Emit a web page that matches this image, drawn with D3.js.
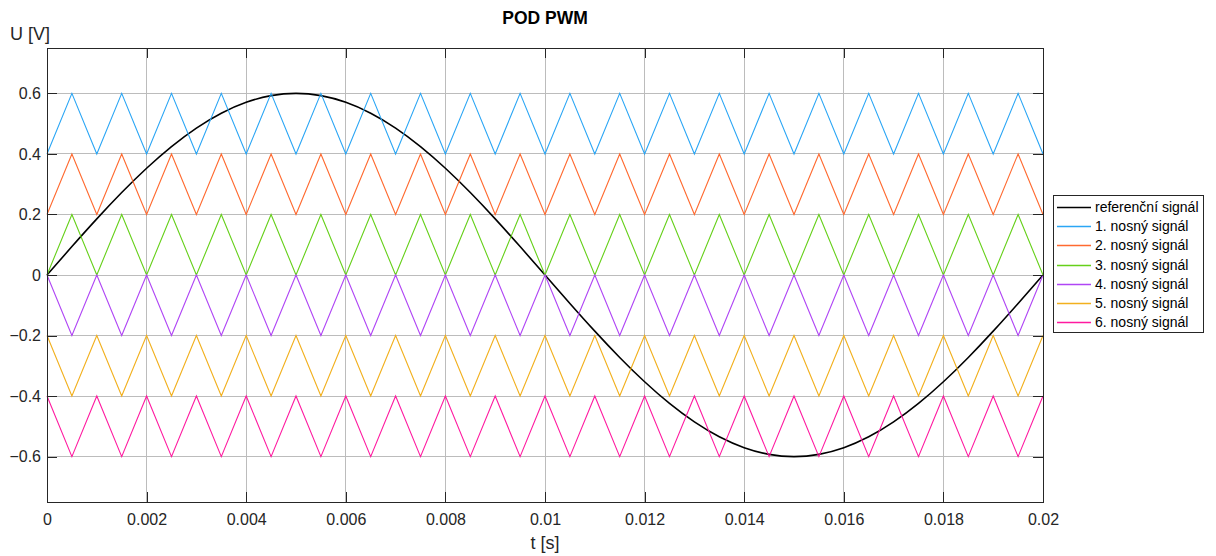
<!DOCTYPE html>
<html>
<head>
<meta charset="utf-8">
<script src="https://cdn.jsdelivr.net/npm/d3@7"></script>
<style>
  body { margin: 0; background: #fff; }
  text { font-family: "Liberation Sans", Arial, sans-serif; }
</style>
</head>
<body>
<div id="chart-wrapper"></div>
<script>
let width = 1216
let height = 556

// time of every carrier vertex [s]
let time = [
  0, 0.0005, 0.001, 0.0015, 0.002, 0.0025, 0.003, 0.0035, 0.004, 0.0045,
  0.005, 0.0055, 0.006, 0.0065, 0.007, 0.0075, 0.008, 0.0085, 0.009, 0.0095,
  0.01, 0.0105, 0.011, 0.0115, 0.012, 0.0125, 0.013, 0.0135, 0.014, 0.0145,
  0.015, 0.0155, 0.016, 0.0165, 0.017, 0.0175, 0.018, 0.0185, 0.019, 0.0195, 0.02
]
// reference signal, read at the same times
let reference = [
  0, 0.0939, 0.1854, 0.2724, 0.3527, 0.4243, 0.4854, 0.5346, 0.5706, 0.5926,
  0.6, 0.5926, 0.5706, 0.5346, 0.4854, 0.4243, 0.3527, 0.2724, 0.1854, 0.0939,
  0, -0.0939, -0.1854, -0.2724, -0.3527, -0.4243, -0.4854, -0.5346, -0.5706, -0.5926,
  -0.6, -0.5926, -0.5706, -0.5346, -0.4854, -0.4243, -0.3527, -0.2724, -0.1854, -0.0939, 0
]
let carrier1 = [
  0.4, 0.6, 0.4, 0.6, 0.4, 0.6, 0.4, 0.6, 0.4, 0.6,
  0.4, 0.6, 0.4, 0.6, 0.4, 0.6, 0.4, 0.6, 0.4, 0.6,
  0.4, 0.6, 0.4, 0.6, 0.4, 0.6, 0.4, 0.6, 0.4, 0.6,
  0.4, 0.6, 0.4, 0.6, 0.4, 0.6, 0.4, 0.6, 0.4, 0.6, 0.4
]
let carrier2 = [
  0.2, 0.4, 0.2, 0.4, 0.2, 0.4, 0.2, 0.4, 0.2, 0.4,
  0.2, 0.4, 0.2, 0.4, 0.2, 0.4, 0.2, 0.4, 0.2, 0.4,
  0.2, 0.4, 0.2, 0.4, 0.2, 0.4, 0.2, 0.4, 0.2, 0.4,
  0.2, 0.4, 0.2, 0.4, 0.2, 0.4, 0.2, 0.4, 0.2, 0.4, 0.2
]
let carrier3 = [
  0, 0.2, 0, 0.2, 0, 0.2, 0, 0.2, 0, 0.2,
  0, 0.2, 0, 0.2, 0, 0.2, 0, 0.2, 0, 0.2,
  0, 0.2, 0, 0.2, 0, 0.2, 0, 0.2, 0, 0.2,
  0, 0.2, 0, 0.2, 0, 0.2, 0, 0.2, 0, 0.2, 0
]
let carrier4 = [
  0, -0.2, 0, -0.2, 0, -0.2, 0, -0.2, 0, -0.2,
  0, -0.2, 0, -0.2, 0, -0.2, 0, -0.2, 0, -0.2,
  0, -0.2, 0, -0.2, 0, -0.2, 0, -0.2, 0, -0.2,
  0, -0.2, 0, -0.2, 0, -0.2, 0, -0.2, 0, -0.2, 0
]
let carrier5 = [
  -0.2, -0.4, -0.2, -0.4, -0.2, -0.4, -0.2, -0.4, -0.2, -0.4,
  -0.2, -0.4, -0.2, -0.4, -0.2, -0.4, -0.2, -0.4, -0.2, -0.4,
  -0.2, -0.4, -0.2, -0.4, -0.2, -0.4, -0.2, -0.4, -0.2, -0.4,
  -0.2, -0.4, -0.2, -0.4, -0.2, -0.4, -0.2, -0.4, -0.2, -0.4, -0.2
]
let carrier6 = [
  -0.4, -0.6, -0.4, -0.6, -0.4, -0.6, -0.4, -0.6, -0.4, -0.6,
  -0.4, -0.6, -0.4, -0.6, -0.4, -0.6, -0.4, -0.6, -0.4, -0.6,
  -0.4, -0.6, -0.4, -0.6, -0.4, -0.6, -0.4, -0.6, -0.4, -0.6,
  -0.4, -0.6, -0.4, -0.6, -0.4, -0.6, -0.4, -0.6, -0.4, -0.6, -0.4
]
let names = ["referenční signál", "1. nosný signál", "2. nosný signál", "3. nosný signál",
             "4. nosný signál", "5. nosný signál", "6. nosný signál"]
let xTicks = [0, 0.002, 0.004, 0.006, 0.008, 0.01, 0.012, 0.014, 0.016, 0.018, 0.02]
let yTicks = [-0.6, -0.4, -0.2, 0, 0.2, 0.4, 0.6]

let color = ["#000000", "#2ba6f5", "#ff6a30", "#66d01a", "#b046f5", "#f2b01e", "#ff1aa0"]
let series = [reference, carrier1, carrier2, carrier3, carrier4, carrier5, carrier6]

let margin = {top: 48, right: 173, bottom: 54, left: 47}
let graphWidth = width - margin.left - margin.right
let graphHeight = height - margin.top - margin.bottom
let ink = "#262626"

let svg = d3.select("#chart-wrapper")
  .append("svg")
  .attr("width", width)
  .attr("height", height)

let graph = svg.append("g")
  .attr("transform", `translate(${margin.left},${margin.top})`)

let x = d3.scaleLinear().domain([0, 0.02]).range([0, graphWidth])
let y = d3.scaleLinear().domain([-0.75, 0.75]).range([graphHeight, 0])

// Grid
graph.append("g")
  .selectAll("line.gx")
  .data(xTicks)
  .join("line")
  .attr("x1", d => x(d)).attr("x2", d => x(d))
  .attr("y1", 0).attr("y2", graphHeight)
  .attr("stroke", "#bcbcbc").attr("stroke-width", 1)
  .attr("shape-rendering", "crispEdges")
graph.append("g")
  .selectAll("line.gy")
  .data(yTicks)
  .join("line")
  .attr("x1", 0).attr("x2", graphWidth)
  .attr("y1", d => y(d)).attr("y2", d => y(d))
  .attr("stroke", "#bcbcbc").attr("stroke-width", 1)
  .attr("shape-rendering", "crispEdges")

// Lines
series.forEach((s, k) => {
  let line = d3.line()
    .x((d, i) => x(time[i]))
    .y(d => y(d))
    .curve(k == 0 ? d3.curveNatural : d3.curveLinear)
  graph.append("path")
    .attr("fill", "none")
    .attr("stroke", color[k])
    .attr("stroke-width", k == 0 ? 1.6 : 1.1)
    .attr("d", line(s))
})

// Axes (MATLAB style: ticks inside, on all sides)
let tick = 10
graph.append("g")
  .attr("class", "xAxis")
  .attr("transform", `translate(0,${graphHeight})`)
  .call(d3.axisBottom(x).tickValues(xTicks).tickSize(-tick).tickPadding(12).tickFormat(d3.format("")))
graph.append("g")
  .attr("class", "xAxisTop")
  .call(d3.axisTop(x).tickValues(xTicks).tickSize(-tick).tickFormat(""))
graph.append("g")
  .attr("class", "yAxis")
  .call(d3.axisLeft(y).tickValues(yTicks).tickSize(-tick).tickPadding(6).tickFormat(d3.format("")))
graph.append("g")
  .attr("class", "yAxisRight")
  .attr("transform", `translate(${graphWidth},0)`)
  .call(d3.axisRight(y).tickValues(yTicks).tickSize(-tick).tickFormat(""))

graph.selectAll(".xAxis, .xAxisTop, .yAxis, .yAxisRight").selectAll("path, line")
  .attr("stroke", ink).attr("stroke-width", 1).attr("shape-rendering", "crispEdges")
graph.selectAll(".xAxis text, .yAxis text")
  .attr("fill", ink).attr("font-size", 16)
  .attr("font-family", "Liberation Sans, Arial, sans-serif")

// Texts
svg.append("text")
  .attr("x", margin.left + graphWidth / 2).attr("y", 24)
  .attr("text-anchor", "middle")
  .attr("font-size", 17.5).attr("font-weight", "bold").attr("fill", "#000")
  .text("POD PWM")
svg.append("text")
  .attr("x", 10).attr("y", 40)
  .attr("font-size", 18).attr("fill", ink)
  .text("U [V]")
svg.append("text")
  .attr("x", margin.left + graphWidth / 2).attr("y", 549)
  .attr("text-anchor", "middle")
  .attr("font-size", 18).attr("fill", ink)
  .text("t [s]")

// Legend
let legend = svg.append("g").attr("transform", "translate(1053,195)")
legend.append("rect")
  .attr("width", 150).attr("height", 137)
  .attr("fill", "#fff").attr("stroke", ink).attr("stroke-width", 1)
  .attr("shape-rendering", "crispEdges")
let rows = legend.selectAll("g.row")
  .data(names)
  .join("g")
  .attr("transform", (d, i) => `translate(0,${Math.round(12 + i * 19.2)})`)
rows.append("path")
  .attr("d", "M4,0.5H38")
  .attr("fill", "none")
  .attr("stroke", (d, i) => color[i])
  .attr("stroke-width", 1.6)
rows.append("text")
  .attr("x", 42).attr("y", 0.5).attr("dy", "0.35em")
  .attr("font-size", 14).attr("fill", "#000")
  .text(d => d)
</script>
</body>
</html>
